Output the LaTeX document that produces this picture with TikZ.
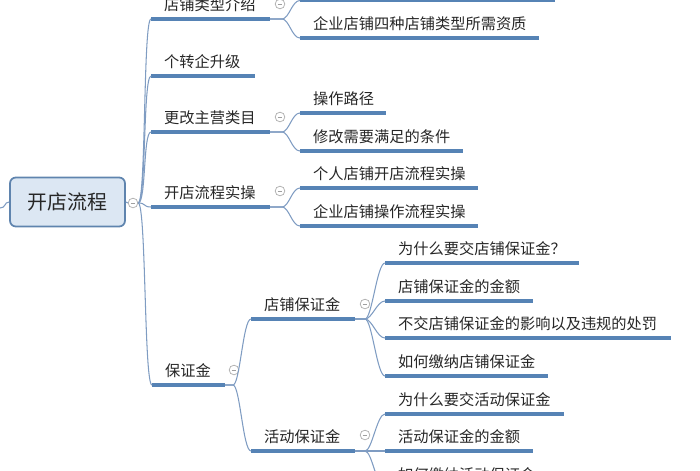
\documentclass[tikz,border=0pt]{standalone}
\usepackage{fontspec}
\newfontfamily\cjk{Noto Sans CJK SC}
\usepackage{xcolor}
\usepackage{tikz}
\definecolor{lineblue}{HTML}{5683B5}
\definecolor{linkblue}{HTML}{7F9CC2}
\definecolor{rootfill}{HTML}{DCE7F3}
\definecolor{rootdraw}{HTML}{5F84AE}
% topic: name, x start, x end, y of the underline, text
\newcommand\topicline[5]{%
  \coordinate (#1-l) at (#2,#4);
  \coordinate (#1-r) at (#3,#4);
  \draw[uline] (#1-l) -- (#1-r);
  \node[lbl] (#1) at (#2+13,#4-9) {#5};}

\begin{document}
\begin{tikzpicture}[
    x=0.03cm, y=-0.03cm,
    uline/.style={draw=lineblue, line width=2.8pt},
    link/.style={draw=linkblue, line width=0.9pt},
    lbl/.style={anchor=base west, inner sep=0pt, text=black!85, font=\cjk\fontsize{13}{15}\selectfont},
    rootbox/.style={rectangle, draw=rootdraw, fill=rootfill, line width=1.5pt, rounded corners=5pt, minimum width=3.45cm, minimum height=1.47cm, font=\cjk\fontsize{17}{20}\selectfont, text=black!85},
    fold/.style={circle, draw=gray!65, fill=white, line width=0.6pt, inner sep=0pt, minimum size=0.29cm,
      path picture={\draw[gray!75, line width=0.6pt] ([xshift=2pt]path picture bounding box.west) -- ([xshift=-2pt]path picture bounding box.east);}}
  ]
    \clip (0,0) rectangle (700,470);
    % root
    \node[rootbox] (root) at (67.5,202) {开店流程};
    \node[fold] (root-fold) at (133,203) {};
    \coordinate (lftin) at (0,208);
    \draw[link] (lftin) .. controls +(6,0) and +(-5,0) .. (root.west);
    \draw[link] (root.east) -- (root-fold.west);
    % first level
    \topicline{type}{151}{270}{19}{店铺类型介绍}
    \topicline{upg}{151}{255}{76}{个转企升级}
    \topicline{cat}{151}{270}{132}{更改主营类目}
    \topicline{flow}{151}{270}{207}{开店流程实操}
    \topicline{dep}{152}{225}{385}{保证金}
    \foreach \t in {type,upg,cat,flow,dep}
      \draw[link] (root-fold.east) .. controls +(8,0) and +(-8,0) .. (\t-l);
    \node[fold] (type-fold) at (280,4) {};
    \node[fold] (cat-fold) at (280,117) {};
    \node[fold] (flow-fold) at (280,191) {};
    \node[fold] (dep-fold) at (234,370) {};
    % second level
    \topicline{typeA}{300}{555}{0.5}{}
    \topicline{typeB}{300}{539}{38}{企业店铺四种店铺类型所需资质}
    \topicline{catA}{300}{386}{113}{操作路径}
    \topicline{catB}{300}{463}{151}{修改需要满足的条件}
    \topicline{flowA}{300}{478}{188}{个人店铺开店流程实操}
    \topicline{flowB}{300}{478}{226}{企业店铺操作流程实操}
    \topicline{shop}{251}{355}{319}{店铺保证金}
    \topicline{act}{251}{355}{451}{活动保证金}
    \foreach \p/\c in {type/typeA,type/typeB,cat/catA,cat/catB,flow/flowA,flow/flowB}
      \draw[link] (\p-r) -- ++(12,0) .. controls +(7,0) and +(-8,0) .. (\c-l);
    \foreach \c in {shop,act}
      \draw[link] (dep-r) -- ++(8,0) .. controls +(7,0) and +(-8,0) .. (\c-l);
    \node[fold] (shop-fold) at (365,304) {};
    \node[fold] (act-fold) at (365,435) {};
    % third level
    \topicline{shopA}{385}{579}{263}{为什么要交店铺保证金？}
    \topicline{shopB}{385}{533}{301}{店铺保证金的金额}
    \topicline{shopC}{385}{671}{338}{不交店铺保证金的影响以及违规的处罚}
    \topicline{shopD}{385}{548}{376}{如何缴纳店铺保证金}
    \topicline{actA}{385}{564}{414}{为什么要交活动保证金}
    \topicline{actB}{385}{533}{451}{活动保证金的金额}
    \topicline{actC}{385}{533}{489}{如何缴纳活动保证金}
    \foreach \c in {shopA,shopB,shopC,shopD}
      \draw[link] (shop-r) -- ++(10,0) .. controls +(7,0) and +(-8,0) .. (\c-l);
    \foreach \c in {actA,actB,actC}
      \draw[link] (act-r) -- ++(10,0) .. controls +(7,0) and +(-8,0) .. (\c-l);
\end{tikzpicture}
\end{document}
